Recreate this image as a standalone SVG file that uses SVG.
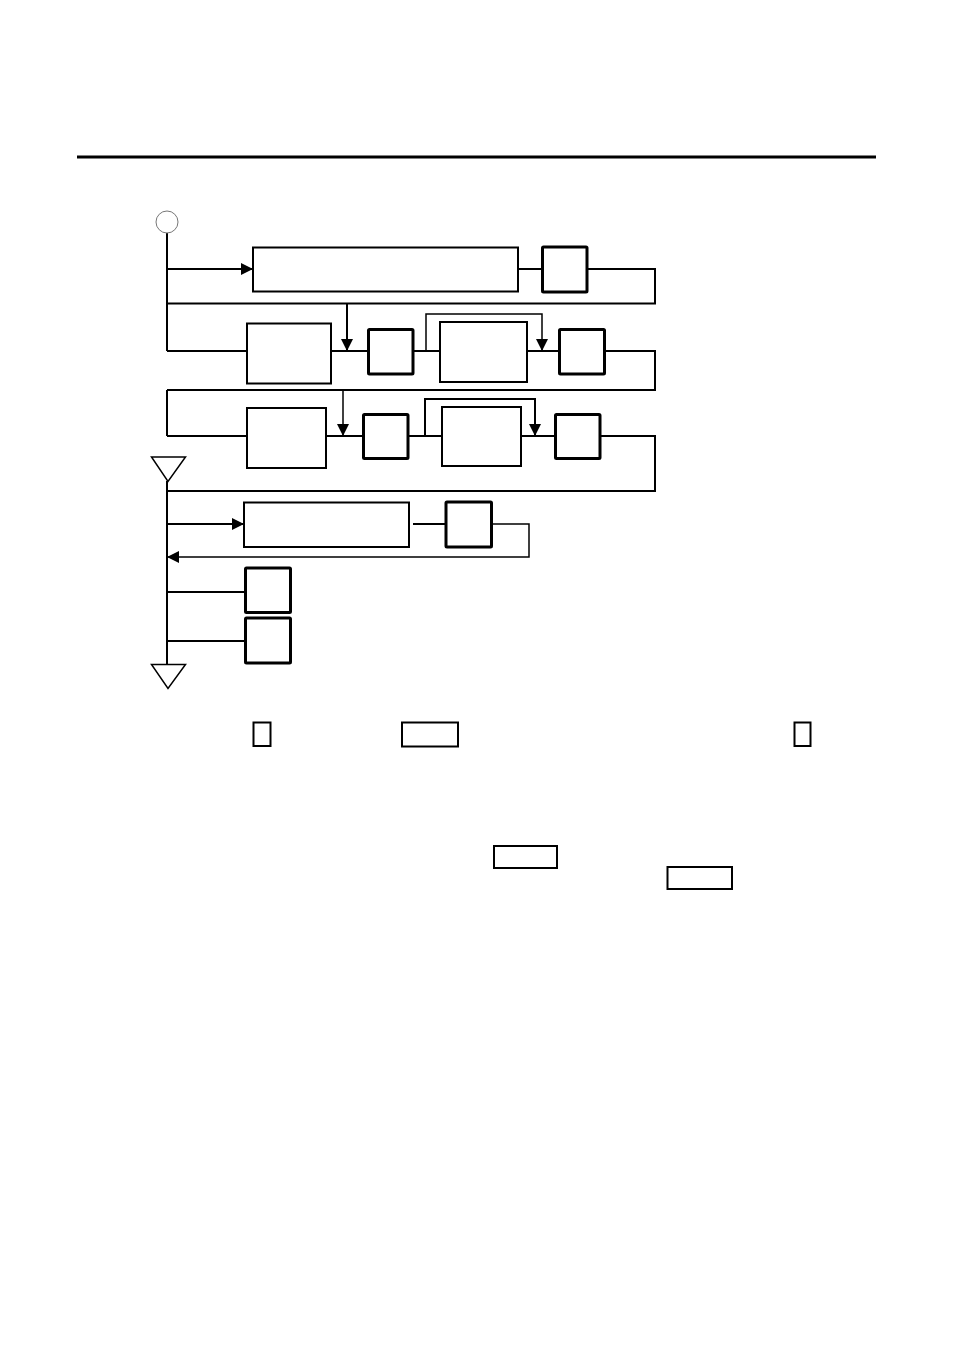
<svg xmlns="http://www.w3.org/2000/svg" width="954" height="1351" viewBox="0 0 954 1351">
<style>
.bg{fill:#fff}
.box{fill:#fff;stroke:#000;stroke-width:2}
.sq{fill:#fff;stroke:#000;stroke-width:3}
.ln{fill:none;stroke:#000;stroke-width:2}
.lt{fill:none;stroke:#000;stroke-width:1.5}
.tri{fill:#fff;stroke:#000;stroke-width:1.5}
</style>
<defs>
<marker id="ah" viewBox="0 0 12 12" refX="12" refY="6" markerWidth="12" markerHeight="12" markerUnits="userSpaceOnUse" orient="auto">
<path d="M0,0 L12,6 L0,12 Z" fill="#000"/>
</marker>
</defs>
<rect class="bg" x="0" y="0" width="954" height="1351"/>
<line x1="77" y1="157" x2="876" y2="157" stroke="#000" stroke-width="3"/>

<g id="connectors">
<!-- main vertical -->
<line class="ln" x1="167" y1="232" x2="167" y2="351"/>
<line class="ln" x1="167" y1="390" x2="167" y2="436"/>
<line class="ln" x1="167" y1="481" x2="167" y2="664"/>
<!-- row 1 -->
<line class="ln" x1="167" y1="269" x2="253" y2="269" marker-end="url(#ah)"/>
<line class="ln" x1="518" y1="269" x2="542" y2="269"/>
<polyline class="ln" points="587,269 655,269 655,303.5 167,303.5"/>
<line class="ln" x1="347" y1="303.5" x2="347" y2="351" marker-end="url(#ah)"/>
<!-- row 2 -->
<line class="ln" x1="167" y1="351" x2="247" y2="351"/>
<line class="ln" x1="331" y1="351" x2="368" y2="351"/>
<line class="ln" x1="413" y1="351" x2="440" y2="351"/>
<polyline class="lt" points="426,351 426,314 542,314 542,351" marker-end="url(#ah)"/>
<line class="ln" x1="527" y1="351" x2="559" y2="351"/>
<polyline class="ln" points="604,351 655,351 655,390 167,390"/>
<line class="lt" x1="343" y1="390" x2="343" y2="436" marker-end="url(#ah)"/>
<!-- row 3 -->
<line class="ln" x1="167" y1="436" x2="247" y2="436"/>
<line class="ln" x1="326" y1="436" x2="363" y2="436"/>
<line class="ln" x1="408" y1="436" x2="442" y2="436"/>
<polyline class="ln" points="425,436 425,399 535,399 535,436" marker-end="url(#ah)"/>
<line class="ln" x1="521" y1="436" x2="555" y2="436"/>
<polyline class="ln" points="600,436 655,436 655,491 167,491"/>
<!-- row 4 -->
<line class="ln" x1="167" y1="524" x2="244" y2="524" marker-end="url(#ah)"/>
<line class="ln" x1="413" y1="524" x2="446" y2="524"/>
<polyline class="lt" points="492,524 529,524 529,557 167,557" marker-end="url(#ah)"/>
<!-- rows 5, 6 -->
<line class="ln" x1="167" y1="592" x2="245" y2="592"/>
<line class="ln" x1="167" y1="641" x2="245" y2="641"/>
</g>

<g id="start"><circle cx="167" cy="222" r="11" fill="#fff" stroke="#777" stroke-width="1"/></g>
<g id="n1"><rect class="box" x="253" y="247.5" width="265" height="44"/></g>
<g id="n1s"><rect class="sq" x="542.5" y="247" width="44.5" height="45" rx="1"/></g>
<g id="n2a"><rect class="box" x="247" y="323.5" width="84" height="60"/></g>
<g id="n2b"><rect class="sq" x="368.5" y="329.5" width="44.5" height="44.5" rx="1"/></g>
<g id="n2c"><rect class="box" x="440" y="322" width="87" height="60"/></g>
<g id="n2d"><rect class="sq" x="559.5" y="329.5" width="45" height="44.5" rx="1"/></g>
<g id="n3a"><rect class="box" x="247" y="408" width="79" height="60"/></g>
<g id="n3b"><rect class="sq" x="363.5" y="414.5" width="44.5" height="44" rx="1"/></g>
<g id="n3c"><rect class="box" x="442" y="407" width="79" height="59"/></g>
<g id="n3d"><rect class="sq" x="555.5" y="414.5" width="44.5" height="44" rx="1"/></g>
<g id="merge1"><polygon class="tri" points="151.5,457 185.5,457 168,481.5"/></g>
<g id="n4"><rect class="box" x="244" y="502.5" width="165" height="44.5"/></g>
<g id="n4s"><rect class="sq" x="446" y="502" width="45.5" height="45" rx="1"/></g>
<g id="n5"><rect class="sq" x="245.5" y="568" width="45" height="44.5" rx="1"/></g>
<g id="n6"><rect class="sq" x="245.5" y="618" width="45" height="45" rx="1"/></g>
<g id="end"><polygon class="tri" points="151.5,664.5 185.5,664.5 168,688.5"/></g>

<g id="legend">
<rect class="box" x="253.5" y="722.5" width="17" height="23.5"/>
<rect class="box" x="402" y="722.5" width="56" height="24"/>
<rect class="box" x="794.5" y="722.5" width="16" height="23.5"/>
<rect class="box" x="494" y="846" width="63" height="22"/>
<rect class="box" x="667.5" y="867" width="64.5" height="22"/>
</g>
</svg>
